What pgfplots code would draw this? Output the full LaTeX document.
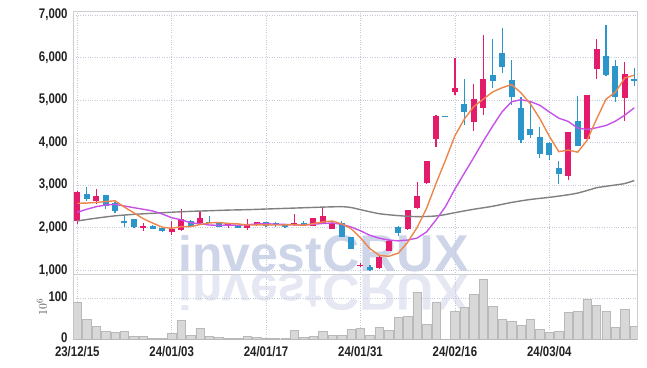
\documentclass[border=0pt]{standalone}
\usepackage{fontspec}
\setmainfont{Liberation Sans}
\newfontfamily\tickfont{Liberation Sans}[FakeStretch=0.82]
\newfontfamily\wmfont{Liberation Sans}
\usepackage{pgfplots}
\usepackage{pgfplotstable}
\pgfplotsset{compat=1.18}

\definecolor{cred}{RGB}{228,26,106}
\definecolor{cblue}{RGB}{44,150,202}
\definecolor{corange}{RGB}{238,134,76}
\definecolor{cpurple}{RGB}{198,82,232}
\definecolor{cgray}{RGB}{128,128,128}
\definecolor{gridc}{RGB}{196,202,218}
\definecolor{framec}{RGB}{205,205,210}
\definecolor{wm}{RGB}{206,213,233}
\definecolor{wm2}{RGB}{229,232,242}
\definecolor{volfill}{RGB}{216,216,216}
\definecolor{voldraw}{RGB}{185,185,185}
\definecolor{tickc}{RGB}{34,34,34}

\pgfplotstableread{
x o h l c
0 2150 2870 2090 2850
2 2640 2900 2560 2740
7 2000 2100 1930 2050
10 1900 2170 1830 1970
11 1950 2450 1920 2200
13 2100 2390 2080 2230
16 2030 2110 2000 2090
18 1990 2200 1950 2090
19 2060 2140 2050 2130
23 2060 2320 2050 2120
25 2040 2230 2030 2220
26 2110 2460 2100 2270
27 1980 2130 1970 2120
30 1100 1160 1080 1130
32 1050 1330 1040 1320
33 1460 1710 1450 1700
35 1960 2420 1940 2410
36 2460 3070 2450 2740
37 3060 3580 3040 3560
38 4090 4640 3890 4620
40 5200 6000 5120 5280
42 4490 5370 4270 5020
43 4820 6530 4650 5490
52 3220 4260 3120 4250
54 4090 5130 4080 5120
55 5720 6430 5500 6190
58 5060 5900 4520 5610
}\upc

\pgfplotstableread{
x o h l c
1 2790 2950 2640 2680
3 2770 2780 2430 2500
4 2570 2610 2340 2400
5 2160 2300 2020 2100
6 2200 2210 2000 2010
8 2050 2060 1960 1980
9 2000 2010 1900 1925
12 2160 2180 2030 2050
14 2140 2280 2100 2120
15 2120 2130 2010 2020
17 2050 2060 1990 2000
20 2130 2140 2020 2030
21 2110 2130 2010 2070
22 2060 2070 2000 2010
24 2120 2170 2040 2060
28 2110 2160 1780 1790
29 1780 1790 1490 1500
31 1080 1130 990 1000
34 2020 2050 1800 1870
39 4630 4630 4610 4610
41 4900 5500 4410 4710
44 5580 6430 5290 5460
45 6100 6690 5630 5770
46 5470 5940 4890 5080
47 4810 5080 4000 4060
48 4320 4960 4110 4180
49 4130 4370 3640 3730
50 4000 4010 3590 3710
51 3410 3570 3040 3260
53 4510 5100 3920 3930
56 6030 6770 5570 5600
57 5800 5940 4950 5080
59 5490 5750 5340 5440
}\downc

\pgfplotstableread{
x ma5 ma10
0 2575 2363
1 2580 2434
2 2595 2495
3 2615 2535
4 2634 2551
5 2484 2511
6 2350 2471
7 2212 2434
8 2108 2394
9 2013 2324
10 1987 2236
11 2025 2188
12 2025 2119
13 2075 2092
14 2114 2064
15 2124 2056
16 2102 2064
17 2092 2059
18 2064 2070
19 2066 2090
20 2068 2096
21 2064 2083
22 2066 2079
23 2072 2068
24 2058 2062
25 2096 2082
26 2136 2100
27 2158 2112
28 2092 2082
29 1980 2019
30 1762 1929
31 1508 1822
32 1348 1753
33 1330 1711
34 1404 1692
35 1660 1711
36 2008 1758
37 2456 1902
38 3040 2185
39 3588 2496
40 4162 2911
41 4556 3282
42 4848 3652
43 5022 4031
44 5192 4390
45 5290 4726
46 5364 4960
47 5172 5010
48 4910 4966
49 4564 4878
50 4152 4721
51 3788 4576
52 3826 4499
53 3776 4343
54 4054 4309
55 4552 4351
56 5020 4403
57 5186 4505
58 5522 4648
59 5586 4819
}\ma

\pgfplotstableread{
x ma60
0 2160
2 2225
4 2280
6 2315
8 2340
10 2365
12 2385
14 2400
16 2415
18 2425
20 2440
22 2455
24 2470
26 2485
28 2495
29 2475
30 2425
31 2375
32 2330
33 2305
34 2285
35 2270
36 2262
37 2265
38 2278
39 2310
40 2355
42 2435
44 2505
46 2595
48 2665
50 2715
52 2775
53 2815
54 2875
55 2940
56 2975
57 3005
58 3040
59 3110
}\masixty

\pgfplotstableread{
x v
0 90
1 49
2 31
3 19.5
4 17
5 19.5
6 7
7 7
8 2.4
9 2.4
10 14.5
11 46
12 9.7
13 27
14 7
15 5
16 2.4
17 2.4
18 7
19 5
20 2.4
21 2.4
22 2.4
23 22
24 5
25 7
26 19.5
27 9.7
28 9.7
29 24
30 27
31 9.7
32 29
33 22
34 54
35 56
36 115
37 37
38 90
39 0.5
40 68
41 78
42 110
43 146
44 80
45 49
46 44
47 34
48 49
49 24
50 17
51 19.5
52 66
53 68
54 98
55 83
56 68
57 29
58 73
59 32
}\vol

\pgfplotsset{
  common/.style={
    scale only axis, anchor=south west, width=564bp,
    xmin=-0.42, xmax=59.32,
    xtick={0,10,20,30,40,50},
    grid=major, grid style={dotted, gridc, line width=0.7bp},
    major tick length=0pt,
    axis line style={framec, line width=0.8bp},
    tick label style={font=\tickfont\bfseries\fontsize{14}{14}\selectfont, text=tickc},
    yticklabel style={inner sep=0pt, xshift=-5.5bp},
    xticklabel style={inner sep=0pt, yshift=-6.5bp},
    /pgf/number format/1000 sep={,},
    /pgf/number format/assume math mode=true,
  },
  wick/.style={only marks, mark size=0pt, mark options={draw=none, fill=none}, forget plot,
    error bars/.cd, y dir=both, y explicit, error mark=none,
    error bar style={solid, line width=1.2bp, draw=#1}},
  body/.style={only marks, mark size=0pt, mark options={draw=none, fill=none}, forget plot,
    error bars/.cd, y dir=both, y explicit, error mark=none,
    error bar style={solid, line width=6bp, draw=#1}},
}

\begin{document}
\begin{tikzpicture}
\path[use as bounding box] (0,0) rectangle (647bp,368bp);
% watermark
\node[anchor=base west, inner sep=0, text=wm2, yscale=-1, font=\wmfont\bfseries\fontsize{50}{50}\selectfont] at (178bp,93bp) {invest\fontsize{52}{52}\selectfont CRUX};
\node[anchor=base west, inner sep=0, text=wm, font=\wmfont\bfseries\fontsize{50}{50}\selectfont] at (178bp,96bp) {invest\fontsize{52}{52}\selectfont CRUX};

% price panel
\begin{axis}[common, at={(73.3bp,93.7bp)}, height=262.6bp,
  ymin=906, ymax=7078, ytick={1000,2000,3000,4000,5000,6000,7000},
  xticklabels={}]
\addplot[wick=cred] table[x=x, y expr={(\thisrow{h}+\thisrow{l})/2}, y error expr={(\thisrow{h}-\thisrow{l})/2}] {\upc};
\addplot[wick=cblue] table[x=x, y expr={(\thisrow{h}+\thisrow{l})/2}, y error expr={(\thisrow{h}-\thisrow{l})/2}] {\downc};
\addplot[body=cred] table[x=x, y expr={(\thisrow{o}+\thisrow{c})/2}, y error expr={max(abs(\thisrow{c}-\thisrow{o})/2,12)}] {\upc};
\addplot[body=cblue] table[x=x, y expr={(\thisrow{o}+\thisrow{c})/2}, y error expr={max(abs(\thisrow{c}-\thisrow{o})/2,12)}] {\downc};
\addplot[cgray, line width=1.4bp, smooth, no marks] table[x=x, y=ma60] {\masixty};
\addplot[cpurple, line width=1.4bp, no marks] table[x=x, y=ma10] {\ma};
\addplot[corange, line width=1.4bp, no marks] table[x=x, y=ma5] {\ma};
\end{axis}

% volume panel
\begin{axis}[common, at={(73.3bp,28.7bp)}, height=65bp,
  ymin=0, ymax=158.5, ytick={0,100},
  yticklabel style={yshift=1.5bp},
  xticklabels={23/12/15,24/01/03,24/01/17,24/01/31,24/02/16,24/03/04},
  ylabel={$10^6$}, ylabel style={font=\fontsize{13}{13}\selectfont, text=tickc!80, yshift=-2bp},
  ybar, bar width=8.4bp]
\addplot[fill=volfill, draw=voldraw, line width=0.5bp] table[x=x, y=v] {\vol};
\end{axis}
\end{tikzpicture}
\end{document}
